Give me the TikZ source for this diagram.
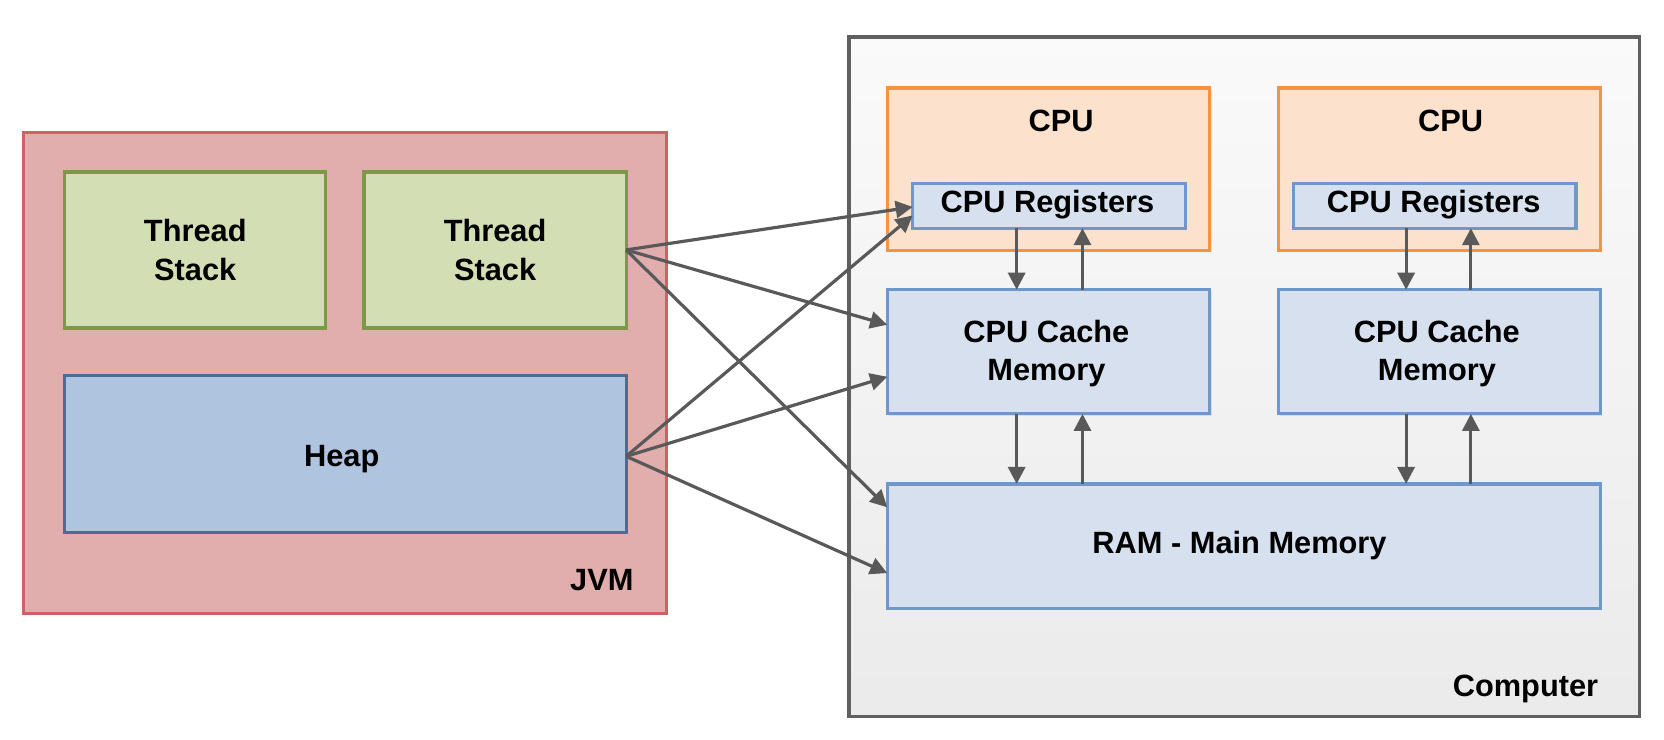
\documentclass[tikz,border=0pt]{standalone}
\usepackage{fontspec}
\setmainfont{Liberation Sans}
\usetikzlibrary{arrows.meta,shadows}
\definecolor{jvmfill}{HTML}{E1ADAD}
\definecolor{jvmdraw}{HTML}{CC6363}
\definecolor{tsfill}{HTML}{D4DEB5}
\definecolor{tsdraw}{HTML}{7A9A47}
\definecolor{heapfill}{HTML}{AFC4DF}
\definecolor{heapdraw}{HTML}{4D6B98}
\definecolor{compdraw}{HTML}{606060}
\definecolor{cpufill}{HTML}{FCE2CD}
\definecolor{cpudraw}{HTML}{F39443}
\definecolor{memfill}{HTML}{D6E0EE}
\definecolor{memdraw}{HTML}{6E97CB}
\definecolor{arrcol}{HTML}{595959}
\tikzset{
  lbl/.style={font=\bfseries\fontsize{14.5}{18}\selectfont, text=black, align=center},
  box/.style={lbl, rectangle, inner sep=0pt, outer sep=0pt, line width=1.5pt,
    drop shadow={shadow xshift=0.8pt, shadow yshift=-0.8pt, opacity=0.18}},
  jvmbox/.style={box, fill=jvmfill, draw=jvmdraw, line width=1.3pt},
  tsbox/.style={box, fill=tsfill, draw=tsdraw},
  heapbox/.style={box, fill=heapfill, draw=heapdraw},
  compbox/.style={box, draw=compdraw, line width=1.7pt, top color=white!98!black, bottom color=white!92!black},
  cpubox/.style={box, fill=cpufill, draw=cpudraw},
  membox/.style={box, fill=memfill, draw=memdraw},
  arr/.style={draw=arrcol, line width=1.5pt, -{Triangle[length=8pt,width=8pt]}},
}
\begin{document}
\begin{tikzpicture}[x=0.5pt,y=-0.5pt]
\useasboundingbox (0,0) rectangle (1568,697);
% JVM side
\node[jvmbox, minimum width=303pt, minimum height=226.5pt] (jvm) at (325,351.5) {};
\node[lbl, anchor=east] (jvml) at (604,547) {JVM};
\node[tsbox, minimum width=123pt, minimum height=73.5pt] (ts1) at (184,235.5) {Thread\\Stack};
\node[tsbox, minimum width=123.5pt, minimum height=73.5pt] (ts2) at (466.5,235.5) {Thread\\Stack};
\node[heapbox, minimum width=264.5pt, minimum height=74pt] (heap) at (325.5,428) {};
\node[lbl] (heapl) at (322,433) {Heap};
% Computer side
\node[compbox, minimum width=372.5pt, minimum height=320pt] (comp) at (1172.5,355) {};
\node[lbl, anchor=east] (compl) at (1513,649) {Computer};
\node[cpubox, minimum width=152pt, minimum height=76.5pt] (cpu1) at (988,159.5) {};
\node[cpubox, minimum width=151.5pt, minimum height=76.5pt] (cpu2) at (1356.5,159.5) {};
\node[lbl] (cpu1l) at (1000,114) {CPU};
\node[lbl] (cpu2l) at (1367,114) {CPU};
\node[membox, minimum width=128.5pt, minimum height=21pt] (reg1) at (988.5,194) {};
\node[membox, minimum width=133pt, minimum height=21pt] (reg2) at (1352,194) {};
\node[lbl] (reg1l) at (987,193) {CPU Registers};
\node[lbl] (reg2l) at (1351,193) {CPU Registers};
\node[membox, minimum width=152pt, minimum height=58.5pt] (cache1) at (988,331.5) {};
\node[membox, minimum width=151.5pt, minimum height=58.5pt] (cache2) at (1356.5,331.5) {};
\node[lbl] (cache1l) at (986,333) {CPU Cache\\Memory};
\node[lbl] (cache2l) at (1354,333) {CPU Cache\\Memory};
\node[membox, minimum width=336pt, minimum height=58.5pt] (ram) at (1172,514.5) {};
\node[lbl] (raml) at (1168,514) {RAM - Main Memory};
% vertical link columns
\coordinate (xa) at (958,0);
\coordinate (xb) at (1020,0);
\coordinate (xc) at (1325,0);
\coordinate (xd) at (1386,0);
\draw[arr] (reg1.south -| xa) -- (cache1.north -| xa);
\draw[arr] (cache1.north -| xb) -- (reg1.south -| xb);
\draw[arr] (reg2.south -| xc) -- (cache2.north -| xc);
\draw[arr] (cache2.north -| xd) -- (reg2.south -| xd);
\draw[arr] (cache1.south -| xa) -- (ram.north -| xa);
\draw[arr] (ram.north -| xb) -- (cache1.south -| xb);
\draw[arr] (cache2.south -| xc) -- (ram.north -| xc);
\draw[arr] (ram.north -| xd) -- (cache2.south -| xd);
% JVM to hardware
\draw[arr] (ts2.east) -- ([yshift=-0.5pt]reg1.west);
\draw[arr] (ts2.east) -- ([yshift=12.75pt]cache1.west);
\draw[arr] (ts2.east) -- ([yshift=18.25pt]ram.west);
\draw[arr] ([yshift=-1pt]heap.east) -- ([yshift=-4.5pt]reg1.west);
\draw[arr] ([yshift=-1pt]heap.east) -- ([yshift=-11.75pt]cache1.west);
\draw[arr] ([yshift=-1pt]heap.east) -- ([yshift=-12.75pt]ram.west);
\end{tikzpicture}
\end{document}
